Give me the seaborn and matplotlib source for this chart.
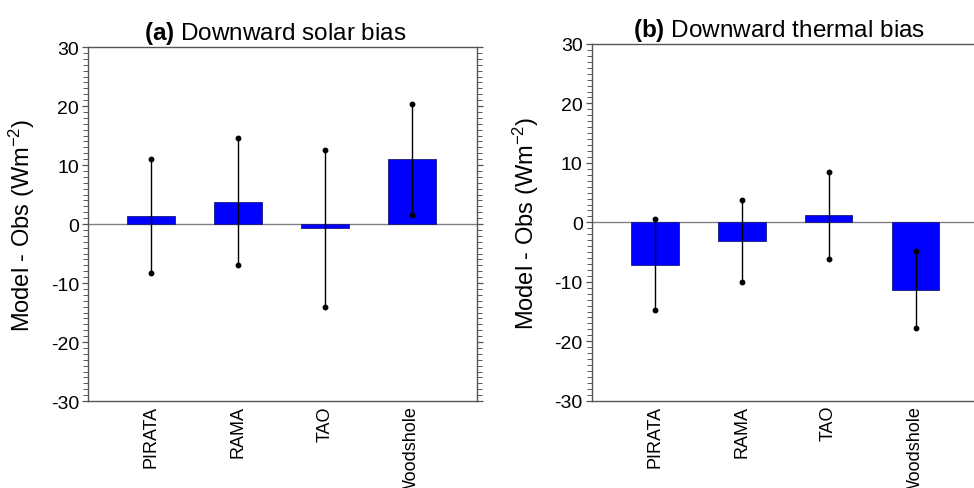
import matplotlib
matplotlib.use("Agg")
import matplotlib.pyplot as plt
from matplotlib.ticker import MultipleLocator
import numpy as np
import pandas as pd
import seaborn as sns

# Daten der beiden Panels
stations = ["PIRATA", "RAMA", "TAO", "Woodshole"]
solar_bias = [1.4, 3.8, -0.7, 11.0]
solar_err = [9.7, 10.8, 13.3, 9.4]
thermal_bias = [-7.1, -3.1, 1.2, -11.3]
thermal_err = [7.6, 6.9, 7.3, 6.5]

sns.set_style("ticks")
plt.rcParams["font.family"] = ["Liberation Sans", "DejaVu Sans"]
plt.rcParams["mathtext.fontset"] = "custom"
plt.rcParams["mathtext.rm"] = "Liberation Sans"
plt.rcParams["mathtext.bf"] = "Liberation Sans:bold"
plt.rcParams["mathtext.it"] = "Liberation Sans:italic"
plt.rcParams["axes.unicode_minus"] = False  # "-30" mit Bindestrich wie im Original
for key in ["text.color", "axes.labelcolor", "xtick.labelcolor", "ytick.labelcolor"]:
    plt.rcParams[key] = "black"

fig = plt.figure(figsize=(9.74, 4.89), dpi=100)
ax_a = fig.add_axes([0.0903, 0.1779, 0.3994, 0.7239])
ax_b = fig.add_axes([0.6075, 0.1785, 0.3994, 0.7295])


def panel(ax, bias, err, title):
    df = pd.DataFrame({"station": stations, "bias": bias})
    ax.axhline(0, color="#808080", lw=1, zorder=1)
    sns.barplot(data=df, x="station", y="bias", color="#0000ff", width=0.55,
                saturation=1, edgecolor="#1a1a80", linewidth=0.6, ax=ax, zorder=2)
    x = np.arange(len(stations))
    lo = np.array(bias) - np.array(err)
    hi = np.array(bias) + np.array(err)
    ax.errorbar(x, bias, yerr=err, fmt="none", ecolor="black", elinewidth=1, capsize=0, zorder=3)
    ax.plot(x, lo, "o", color="black", ms=3.2, zorder=4)
    ax.plot(x, hi, "o", color="black", ms=3.2, zorder=4)

    ax.set_xlim(-0.724, 3.75)
    ax.set_ylim(-30, 30)
    ax.yaxis.set_major_locator(MultipleLocator(10))
    ax.yaxis.set_minor_locator(MultipleLocator(1))
    ax.tick_params(axis="y", which="both", left=True, right=True, direction="out",
                   color="#555555", labelsize=14, pad=2)
    ax.tick_params(axis="y", which="major", length=4.5, width=0.9)
    ax.tick_params(axis="y", which="minor", length=3.5, width=0.7)
    ax.tick_params(axis="x", length=0, labelsize=13, pad=3)
    for lab in ax.get_xticklabels():
        lab.set_rotation(90)
    for s in ax.spines.values():
        s.set_color("#555555")
        s.set_linewidth(1.0)
    ax.set_xlabel("")
    ax.set_ylabel("Model - Obs (Wm$^{-2}$)", fontsize=17, labelpad=10)
    ax.set_title(title, fontsize=17.5, pad=6, x=0.482)


panel(ax_a, solar_bias, solar_err, r"$\mathbf{(a)}$ Downward solar bias")
panel(ax_b, thermal_bias, thermal_err, r"$\mathbf{(b)}$ Downward thermal bias")

fig.savefig("out.png", dpi=100)
